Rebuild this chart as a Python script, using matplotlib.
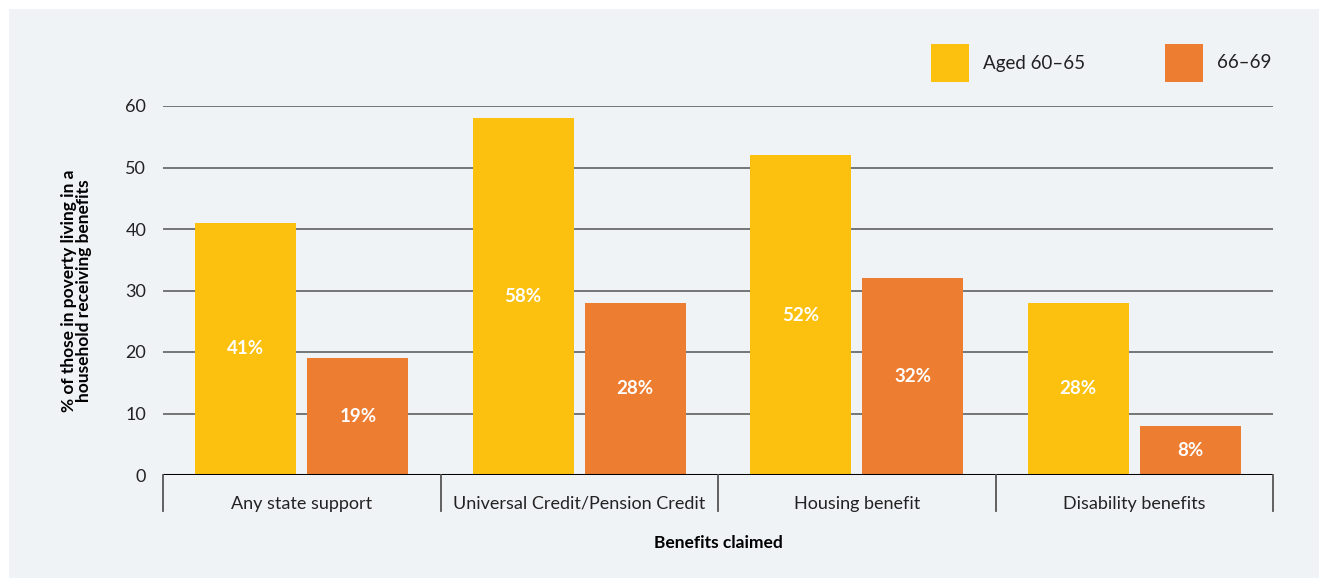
import matplotlib.pyplot as plt
import numpy as np
from matplotlib.patches import Rectangle

categories = ["Any state support", "Universal Credit/Pension Credit",
              "Housing benefit", "Disability benefits"]
aged_60_65 = [41, 58, 52, 28]
aged_66_69 = [19, 28, 32, 8]
series_names = ["Aged 60\u201365", "66\u201369"]

yellow = "#FCC10E"
orange = "#ED7D31"
panel = "#F0F3F6"

plt.rcParams['font.family'] = ['Lato', 'DejaVu Sans']

fig = plt.figure(figsize=(13.19, 5.78), dpi=100, facecolor="white")
# light panel behind the chart
fig.patches.append(Rectangle((9 / 1319, 0), 1 - 9 / 1319, 1 - 9 / 578,
                             transform=fig.transFigure, facecolor=panel,
                             edgecolor="none", zorder=-10))

ax = fig.add_axes([163 / 1319, 1 - 475 / 578, 1110 / 1319, 369 / 578])
ax.set_facecolor("none")
ax.set_zorder(1)

x = np.arange(len(categories))
w = 0.364
off = 0.202
b1 = ax.bar(x - off, aged_60_65, w, color=yellow, zorder=3)
b2 = ax.bar(x + off, aged_66_69, w, color=orange, zorder=3)

# value labels in the middle of each bar
for bars, vals in ((b1, aged_60_65), (b2, aged_66_69)):
    for rect, v in zip(bars, vals):
        ax.text(rect.get_x() + rect.get_width() / 2, v / 2, f"{v}%",
                ha="center", va="center", color="white", fontsize=13.5,
                fontweight="bold", zorder=4)

ax.set_xlim(-0.5, len(categories) - 0.5)
ax.set_ylim(0, 60)
ax.set_yticks(range(0, 61, 10))
for yv in range(10, 61, 10):
    ax.axhline(yv, color="#6b6b6b", lw=1.3, zorder=1)
ax.axhline(0, color="black", lw=2.2, zorder=5)

for s in ax.spines.values():
    s.set_visible(False)

ax.tick_params(axis="y", length=0, pad=12, labelsize=13, labelcolor="#222222")
ax.set_xticks(x)
ax.set_xticklabels(categories)
ax.tick_params(axis="x", length=0, pad=15, labelsize=13, labelcolor="#222222")

# group separators below the axis
for xb in np.arange(-0.5, len(categories), 1.0):
    ax.plot([xb, xb], [0, -36 / 369], transform=ax.get_xaxis_transform(),
            color="#555555", lw=1.3, clip_on=False, zorder=5)

ax.set_xlabel("Benefits claimed", fontsize=12.5, fontweight="bold", labelpad=17)
ax.set_ylabel("% of those in poverty living in a\nhousehold receiving benefits",
              fontsize=12.5, fontweight="bold", labelpad=24, linespacing=0.95)

# legend drawn in figure pixels
for (px, label, c) in ((931, series_names[0], yellow), (1165, series_names[1], orange)):
    fig.patches.append(Rectangle((px / 1319, 1 - 82 / 578), 38 / 1319, 38 / 578,
                                 transform=fig.transFigure, facecolor=c,
                                 edgecolor="none", zorder=2))
    fig.text((px + 52) / 1319, 1 - 63 / 578, label, fontsize=13.5,
             va="center", ha="left", color="#222222")

fig.savefig("out.png", dpi=100, facecolor=fig.get_facecolor())
